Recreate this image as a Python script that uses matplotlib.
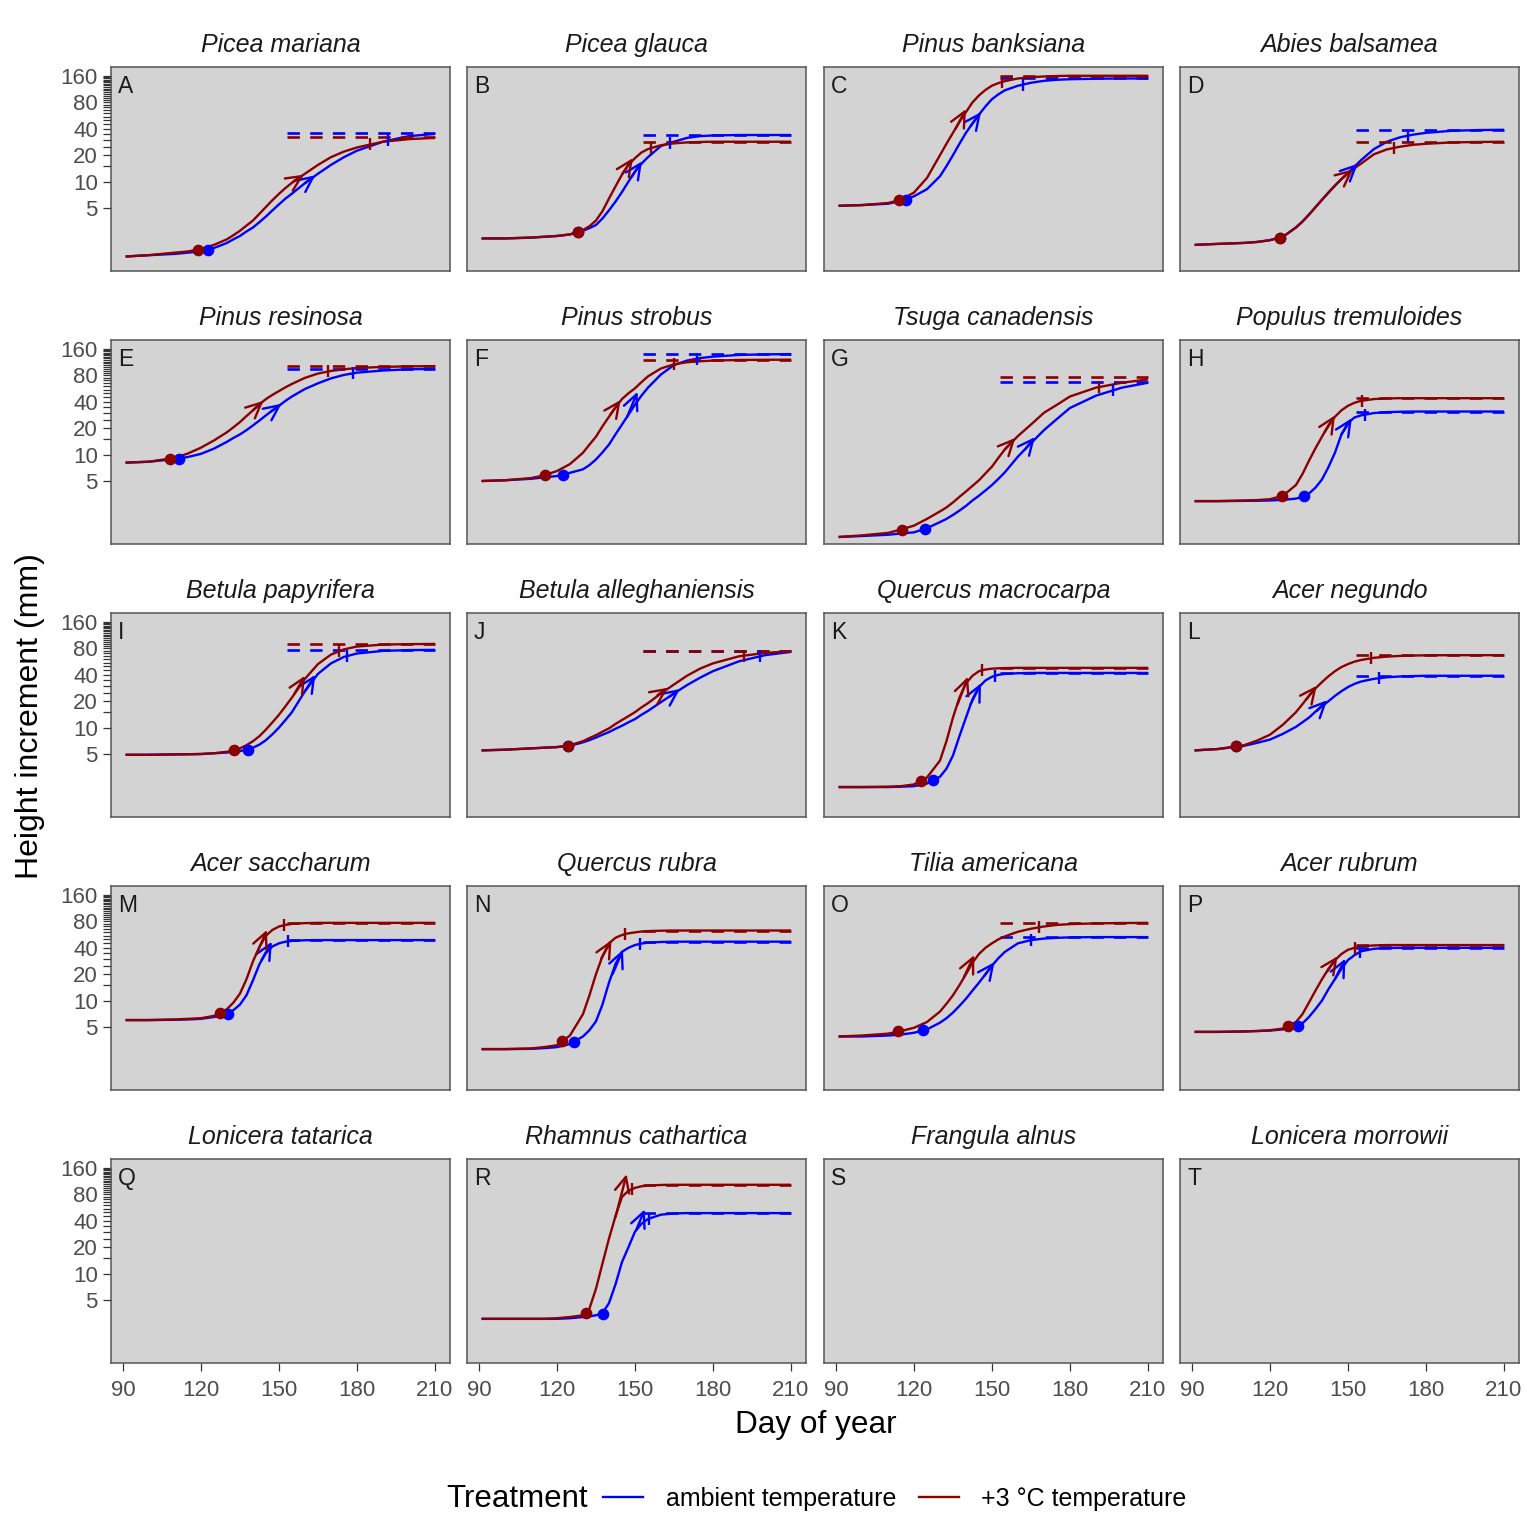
import matplotlib
matplotlib.use("Agg")
import matplotlib.pyplot as plt
from matplotlib.lines import Line2D
from matplotlib.ticker import NullLocator

plt.rcParams['font.family'] = ['Liberation Sans', 'DejaVu Sans']

SPECIES = ["Picea mariana", "Picea glauca", "Pinus banksiana", "Abies balsamea",
           "Pinus resinosa", "Pinus strobus", "Tsuga canadensis", "Populus tremuloides",
           "Betula papyrifera", "Betula alleghaniensis", "Quercus macrocarpa", "Acer negundo",
           "Acer saccharum", "Quercus rubra", "Tilia americana", "Acer rubrum",
           "Lonicera tatarica", "Rhamnus cathartica", "Frangula alnus", "Lonicera morrowii"]
LETTERS = list("ABCDEFGHIJKLMNOPQRST")
TREATMENTS = ["ambient temperature", "+3 °C temperature"]

X_TICKS = [90, 120, 150, 180, 210]
Y_TICKS = list(range(5, 161, 5))
Y_LABELLED = [5, 10, 20, 40, 80, 160]

# day of year at which the fitted curves were read
DAYS = [91, 100, 110, 115, 120, 125, 130, 132.5, 135, 137.5, 140, 142.5, 145, 147.5,
        150, 152.5, 155, 160, 165, 170, 175, 180, 190, 200, 210]

# height increment (mm), ambient / warmed
picea_mariana_amb = [1.4, 1.45, 1.5, 1.55, 1.6, 1.75, 2.0, 2.2, 2.4, 2.7, 3.0, 3.45, 4.0, 4.7, 5.5, 6.4, 7.3, 9.6, 12.3, 15.5, 19, 22.5, 28.5, 33, 35]
picea_mariana_warm = [1.4, 1.45, 1.55, 1.6, 1.7, 1.9, 2.2, 2.45, 2.75, 3.15, 3.6, 4.3, 5.15, 6.15, 7.25, 8.45, 9.7, 12.3, 15.5, 19, 22, 24.5, 28.5, 30.5, 31.5]
picea_glauca_amb = [2.25, 2.25, 2.3, 2.35, 2.4, 2.5, 2.75, 2.95, 3.2, 3.8, 4.7, 5.9, 7.6, 10, 13, 16, 19, 25.5, 28.5, 31.5, 33, 33.6, 34, 34, 34]
picea_glauca_warm = [2.25, 2.25, 2.3, 2.35, 2.4, 2.5, 2.8, 3.1, 3.6, 4.6, 6.4, 8.8, 12, 15.5, 18.5, 21.5, 23.5, 26, 27.3, 28, 28.3, 28.5, 28.5, 28.5, 28.5]
pinus_banksiana_amb = [5.3, 5.4, 5.6, 6.0, 6.8, 8.2, 11.5, 15, 20, 27, 36, 46, 58, 72, 87, 99, 110, 124, 134, 141, 145, 147, 149, 150, 150]
pinus_banksiana_warm = [5.3, 5.4, 5.7, 6.2, 7.5, 11, 20, 27, 36, 48, 62, 80, 96, 111, 124, 133, 140, 150, 155, 158, 160, 161, 161, 161, 161]
abies_balsamea_amb = [1.9, 1.95, 2.0, 2.05, 2.15, 2.35, 3.0, 3.5, 4.2, 5.1, 6.2, 7.5, 9, 10.7, 12.5, 14.8, 17.5, 23.5, 28.5, 32, 34.3, 36, 38, 38.7, 39]
abies_balsamea_warm = [1.9, 1.95, 2.0, 2.05, 2.15, 2.35, 3.0, 3.5, 4.2, 5.1, 6.2, 7.5, 9, 10.7, 12.5, 14.2, 16, 20.5, 23.3, 25, 26.3, 27, 28, 28.3, 28.5]
pinus_resinosa_amb = [8.1, 8.3, 8.9, 9.4, 10.2, 11.7, 14, 15.5, 17, 19, 21.5, 24.5, 28, 32, 36, 41, 46, 56, 65, 74, 81, 86, 91, 94, 95]
pinus_resinosa_warm = [8.1, 8.3, 9.2, 10.3, 12, 14.5, 18, 20.5, 23.5, 27.5, 32, 37.5, 43, 48, 53, 58.5, 64, 75, 84, 90, 94, 97, 100, 101.5, 102]
pinus_strobus_amb = [5.0, 5.1, 5.3, 5.5, 5.7, 6.2, 6.8, 7.6, 8.8, 10.6, 13, 17, 22, 28.5, 37, 47, 58, 82, 105, 118, 126, 131, 137, 139, 140]
pinus_strobus_warm = [5.0, 5.1, 5.4, 5.8, 6.5, 7.8, 10.5, 13, 16, 21, 27, 34.5, 43, 50, 57, 67, 78, 96, 107, 113, 116, 118, 120, 120.5, 121]
tsuga_canadensis_amb = [1.15, 1.18, 1.22, 1.26, 1.3, 1.45, 1.7, 1.85, 2.05, 2.3, 2.6, 3.0, 3.4, 3.9, 4.5, 5.3, 6.3, 9.5, 13.5, 19, 25.5, 34, 47, 58, 66]
tsuga_canadensis_warm = [1.15, 1.2, 1.28, 1.4, 1.55, 1.85, 2.25, 2.5, 2.85, 3.3, 3.8, 4.4, 5.1, 6.1, 7.3, 9.2, 11.5, 16.3, 22, 30, 37, 46, 58, 66, 72]
populus_tremuloides_amb = [2.95, 2.95, 2.97, 2.98, 3.0, 3.05, 3.15, 3.3, 3.6, 4.2, 5.2, 7.2, 10.5, 17, 23, 26.5, 28, 29.8, 30.5, 30.8, 31, 31, 31, 31, 31]
populus_tremuloides_warm = [2.95, 2.95, 3.0, 3.03, 3.1, 3.4, 4.5, 6.0, 8.5, 11.8, 16, 21.5, 27, 32, 36, 39, 41, 43, 43.7, 44, 44, 44, 44, 44, 44]
betula_papyrifera_amb = [4.9, 4.9, 4.95, 4.97, 5.0, 5.1, 5.2, 5.3, 5.4, 5.6, 5.9, 6.4, 7.2, 8.4, 10, 12.2, 15, 26, 41, 54, 64, 70, 75, 76.5, 77]
betula_papyrifera_warm = [4.9, 4.9, 4.95, 4.97, 5.0, 5.1, 5.3, 5.5, 5.8, 6.3, 7.0, 8.0, 9.5, 11.5, 14, 17.5, 22, 36, 53, 68, 78, 84, 88.5, 89.5, 90]
betula_alleghaniensis_amb = [5.5, 5.6, 5.8, 5.9, 6.0, 6.2, 6.8, 7.2, 7.7, 8.3, 8.9, 9.7, 10.5, 11.5, 12.5, 14, 15.5, 19.5, 24.5, 30.5, 37, 44, 57, 67, 73]
betula_alleghaniensis_warm = [5.5, 5.6, 5.8, 5.9, 6.0, 6.3, 7.0, 7.6, 8.2, 9.0, 9.8, 11, 12.2, 13.5, 15, 17, 19, 24.5, 31, 39, 47, 54, 65, 71, 74.5]
quercus_macrocarpa_amb = [2.1, 2.1, 2.1, 2.12, 2.15, 2.3, 2.75, 3.4, 4.8, 8.0, 13, 21, 29, 34.5, 38, 40, 41, 41.7, 42, 42, 42, 42, 42, 42, 42]
quercus_macrocarpa_warm = [2.1, 2.1, 2.12, 2.15, 2.25, 2.7, 4.2, 7.0, 13, 22, 32, 39, 44, 46, 47, 47.5, 47.7, 48, 48, 48, 48, 48, 48, 48, 48]
acer_negundo_amb = [5.5, 5.7, 6.2, 6.7, 7.3, 8.5, 10.2, 11.5, 13, 15.2, 17.5, 20, 23, 26, 29, 31.5, 33.5, 36, 37.5, 38.3, 38.7, 39, 39, 39, 39]
acer_negundo_warm = [5.5, 5.7, 6.3, 7.1, 8.3, 10.8, 15, 18.5, 23, 28, 33, 38.5, 44, 49, 53, 56.5, 59, 62.5, 64.5, 65.7, 66.3, 66.7, 67, 67, 67]
acer_saccharum_amb = [6.0, 6.0, 6.05, 6.1, 6.2, 6.5, 7.1, 7.8, 9.0, 11.5, 17, 26, 35, 41.5, 45, 47, 48, 48.8, 49, 49, 49, 49, 49, 49, 49]
acer_saccharum_warm = [6.0, 6.0, 6.1, 6.2, 6.3, 6.7, 8.0, 9.5, 12, 17.5, 28, 41, 55, 64, 70, 73, 75, 76.5, 77, 77, 77, 77, 77, 77, 77]
quercus_rubra_amb = [2.8, 2.8, 2.82, 2.87, 2.95, 3.2, 3.9, 4.6, 5.8, 9, 16, 26, 36, 40, 43, 44.7, 45.8, 46.6, 47, 47, 47, 47, 47, 47, 47]
quercus_rubra_warm = [2.8, 2.8, 2.85, 2.95, 3.1, 4.0, 7.0, 11.5, 20, 32, 45, 52, 56, 58.5, 60, 61.3, 62, 62.7, 63, 63, 63, 63, 63, 63, 63]
tilia_americana_amb = [3.9, 3.9, 4.0, 4.1, 4.3, 4.7, 5.6, 6.3, 7.3, 8.7, 10.5, 13, 16, 20, 25, 30.5, 36, 45, 49, 51, 52, 52.6, 53, 53, 53]
tilia_americana_warm = [3.9, 4.0, 4.2, 4.5, 4.9, 5.7, 7.5, 9.2, 11.5, 15, 20, 27, 34, 40, 45, 50, 54, 61, 66, 70, 73, 74.5, 76, 76.7, 77]
acer_rubrum_amb = [4.4, 4.4, 4.45, 4.5, 4.55, 4.7, 5.0, 5.5, 6.5, 8.0, 10, 13.5, 17.6, 23, 29, 33, 36.5, 39, 39.8, 40, 40, 40, 40, 40, 40]
acer_rubrum_warm = [4.4, 4.4, 4.45, 4.5, 4.6, 4.8, 5.7, 7.0, 9.5, 13, 17.5, 23, 29, 34, 38, 40, 41.5, 42.6, 43, 43, 43, 43, 43, 43, 43]
rhamnus_cathartica_amb = [3.05, 3.05, 3.05, 3.05, 3.05, 3.1, 3.2, 3.25, 3.35, 3.55, 4.6, 7.5, 13.5, 20, 30, 37, 42, 47, 48.5, 49, 49, 49, 49, 49, 49]
rhamnus_cathartica_warm = [3.05, 3.05, 3.05, 3.05, 3.1, 3.2, 3.35, 4.0, 6.7, 13, 25, 45, 75, 88, 95, 99, 101, 102.5, 103, 103, 103, 103, 103, 103, 103]

# growth onset (dot)
onset_amb_day = [122.7, 128, 117, 124, 111.5, 122.3, 124.2, 133.2, 138, 124.2, 127.3, 107, 130.4, 126.5, 123.6, 130.8, None, 137.6, None, None]
onset_amb_mm = [1.68, 2.65, 6.2, 2.3, 9.0, 5.93, 1.42, 3.35, 5.6, 6.2, 2.5, 6.1, 7.1, 3.4, 4.6, 5.15, None, 3.5, None, None]
onset_warm_day = [119, 128, 114.2, 124, 108, 115.5, 115.5, 124.5, 132.7, 124.2, 122.7, 107, 127.3, 122, 114, 127, None, 131.2, None, None]
onset_warm_mm = [1.68, 2.65, 6.1, 2.3, 9.0, 5.9, 1.4, 3.4, 5.5, 6.2, 2.45, 6.1, 7.2, 3.45, 4.45, 5.1, None, 3.55, None, None]

# maximum growth rate (arrow: from -> to)
arrow_amb_from_day = [160, 148.7, 141.8, 149.8, 147, 147, 162.5, 147.5, 160, 163.3, 141.8, 138, 143.3, 141.4, 147, 145, None, 150.5, None, None]
arrow_amb_from_mm = [9.6, 11.3, 43, 12.3, 31, 27, 11.3, 17, 26, 22.5, 18.5, 15.5, 29, 20, 19, 17.6, None, 31.5, None, None]
arrow_amb_to_day = [164, 152.7, 145.8, 153.8, 151, 151, 166.5, 151.5, 164, 167.3, 145.8, 142, 147.3, 145.4, 151, 149, None, 153.8, None, None]
arrow_amb_to_mm = [11.8, 17, 62, 16, 38, 52, 15.8, 26, 40, 27.5, 32, 20.5, 47, 38, 27.5, 30, None, 54, None, None]
arrow_warm_from_day = [155.5, 145.2, 136, 148, 140, 140.5, 155, 141, 156, 158.7, 136.8, 134, 141.4, 137, 139.2, 142, None, 142.5, None, None]
arrow_warm_from_mm = [10.0, 12.3, 40, 11, 32, 28.5, 11.5, 18, 24.5, 23.5, 18.5, 21, 34, 30, 18.5, 21.5, None, 44, None, None]
arrow_warm_to_day = [159.6, 149.2, 140, 152, 144, 144.5, 159, 145, 160, 162.7, 140.8, 138, 145.4, 141, 143.2, 146, None, 146.8, None, None]
arrow_warm_to_mm = [12.0, 18.5, 67, 13.8, 41, 42, 15.5, 28, 39, 28.5, 38, 30, 64, 49, 33, 32, None, 136, None, None]

# growth cessation (tick)
tick_amb_day = [192, 163.5, 162, 173, 178.5, 174, 196.5, 156.5, 176, 198, 151, 162, 153.5, 152, 165, 154.6, None, 155.5, None, None]
tick_amb_mm = [29.5, 27.5, 128, 33.5, 84.5, 124.5, 54, 28.5, 65, 65.5, 38.8, 36.6, 47.4, 44.3, 49, 36, None, 42.5, None, None]
tick_warm_day = [185, 156, 154, 167.7, 169, 165, 191, 155.5, 173, 192, 146, 159, 152, 146, 168, 152.7, None, 149, None, None]
tick_warm_mm = [26.5, 24, 137, 24.2, 88.8, 107, 58.8, 41.2, 74, 66, 44.8, 61.8, 72.4, 57, 68.4, 40.1, None, 92, None, None]

# asymptotic height increment (dashed line)
asym_amb_mm = [36, 34, 152, 39, 95, 140, 68, 31, 77, 74.5, 42, 39, 49, 47, 53, 40, None, 49, None, None]
asym_warm_mm = [32, 28.5, 161, 28.5, 102, 121, 76.5, 44, 90, 75.5, 48, 67, 77, 63, 77, 43, None, 103, None, None]
ASYM_START_DAY = 153
ASYM_END_DAY = 210

AMB_CURVES = [picea_mariana_amb, picea_glauca_amb, pinus_banksiana_amb, abies_balsamea_amb,
              pinus_resinosa_amb, pinus_strobus_amb, tsuga_canadensis_amb, populus_tremuloides_amb,
              betula_papyrifera_amb, betula_alleghaniensis_amb, quercus_macrocarpa_amb, acer_negundo_amb,
              acer_saccharum_amb, quercus_rubra_amb, tilia_americana_amb, acer_rubrum_amb,
              None, rhamnus_cathartica_amb, None, None]
WARM_CURVES = [picea_mariana_warm, picea_glauca_warm, pinus_banksiana_warm, abies_balsamea_warm,
               pinus_resinosa_warm, pinus_strobus_warm, tsuga_canadensis_warm, populus_tremuloides_warm,
               betula_papyrifera_warm, betula_alleghaniensis_warm, quercus_macrocarpa_warm, acer_negundo_warm,
               acer_saccharum_warm, quercus_rubra_warm, tilia_americana_warm, acer_rubrum_warm,
               None, rhamnus_cathartica_warm, None, None]

AMB_COLOR = "#0000FF"
WARM_COLOR = "#8B0000"
PANEL_BG = "#D3D3D3"

W = H = 1536
fig = plt.figure(figsize=(W / 100, H / 100), dpi=100)

COL_LEFT = [111, 467, 824, 1180]
ROW_TOP = [67, 340, 613, 886, 1159]
PW, PH = 339, 204

LW = 1.7


def draw_treatment(ax, vals, color, onset, arrow, tick, asym):
    if vals is None:
        return
    ax.plot(DAYS, vals, color=color, lw=LW, zorder=2, solid_capstyle='butt',
            solid_joinstyle='round')
    ax.plot([ASYM_START_DAY, ASYM_END_DAY], [asym, asym], color=color, lw=1.9,
            ls=(0, (4.7, 3.9)), zorder=2)
    ax.annotate('', xy=(arrow[2], arrow[3]), xytext=(arrow[0], arrow[1]),
                arrowprops=dict(arrowstyle='->,head_length=0.55,head_width=0.26',
                                color=color, lw=LW, shrinkA=0, shrinkB=0,
                                mutation_scale=20), zorder=3)
    ax.plot([tick[0]], [tick[1]], marker='|', ms=8, mew=1.7, color=color, zorder=3)
    ax.plot([onset[0]], [onset[1]], marker='o', ms=8.4, mew=0, color=color, zorder=4)


for i, sp in enumerate(SPECIES):
    r, c = divmod(i, 4)
    left = COL_LEFT[c] / W
    bottom = 1 - (ROW_TOP[r] + PH) / H
    ax = fig.add_axes([left, bottom, PW / W, PH / H])
    ax.set_facecolor(PANEL_BG)
    ax.set_yscale('log')
    ax.set_xlim(85.4, 215.8)
    ax.set_ylim(0.957, 202.7)
    ax.set_xticks(X_TICKS)
    ax.set_xticklabels([str(t) for t in X_TICKS])
    ax.set_yticks(Y_TICKS)
    ax.set_yticklabels([str(t) if t in Y_LABELLED else '' for t in Y_TICKS])
    ax.yaxis.set_minor_locator(NullLocator())
    ax.xaxis.set_minor_locator(NullLocator())
    for s in ax.spines.values():
        s.set_color('#555555')
        s.set_linewidth(1.1)
    ax.tick_params(axis='both', direction='out', length=5.5, width=0.9, color='#333333',
                   labelsize=16, labelcolor='#4D4D4D')
    ax.tick_params(axis='y', pad=4)
    ax.tick_params(axis='x', pad=7)
    if c != 0:
        ax.tick_params(axis='y', left=False, labelleft=False)
    if r != 4:
        ax.tick_params(axis='x', bottom=False, labelbottom=False)
    ax.set_title(sp, fontstyle='italic', fontsize=18, color='#1A1A1A', pad=11)
    ax.text(7 / PW, 1 - 8 / PH, LETTERS[i], transform=ax.transAxes, ha='left', va='top',
            fontsize=16.5, color='#1A1A1A')

    if AMB_CURVES[i] is not None:
        draw_treatment(ax, AMB_CURVES[i], AMB_COLOR,
                       (onset_amb_day[i], onset_amb_mm[i]),
                       (arrow_amb_from_day[i], arrow_amb_from_mm[i], arrow_amb_to_day[i], arrow_amb_to_mm[i]),
                       (tick_amb_day[i], tick_amb_mm[i]), asym_amb_mm[i])
    if WARM_CURVES[i] is not None:
        draw_treatment(ax, WARM_CURVES[i], WARM_COLOR,
                       (onset_warm_day[i], onset_warm_mm[i]),
                       (arrow_warm_from_day[i], arrow_warm_from_mm[i], arrow_warm_to_day[i], arrow_warm_to_mm[i]),
                       (tick_warm_day[i], tick_warm_mm[i]), asym_warm_mm[i])

fig.text(30 / W, 1 - 716.5 / H, "Height increment (mm)", rotation=90, ha='center',
         va='center', fontsize=23, color='black')
fig.text(815.5 / W, 1 - 1425 / H, "Day of year", ha='center', va='center',
         fontsize=22.7, color='black')
fig.text(446 / W, 1 - 1499 / H, "Treatment", ha='left', va='center', fontsize=22.5,
         color='black')
handles = [Line2D([], [], color=AMB_COLOR, lw=LW), Line2D([], [], color=WARM_COLOR, lw=LW)]
fig.legend(handles, TREATMENTS, ncol=2, frameon=False, fontsize=18, handlelength=1.6,
           handletextpad=0.9, columnspacing=0.9, loc='center',
           bbox_to_anchor=(895 / W, 1 - 1499 / H))

fig.savefig("out.png", dpi=100)
